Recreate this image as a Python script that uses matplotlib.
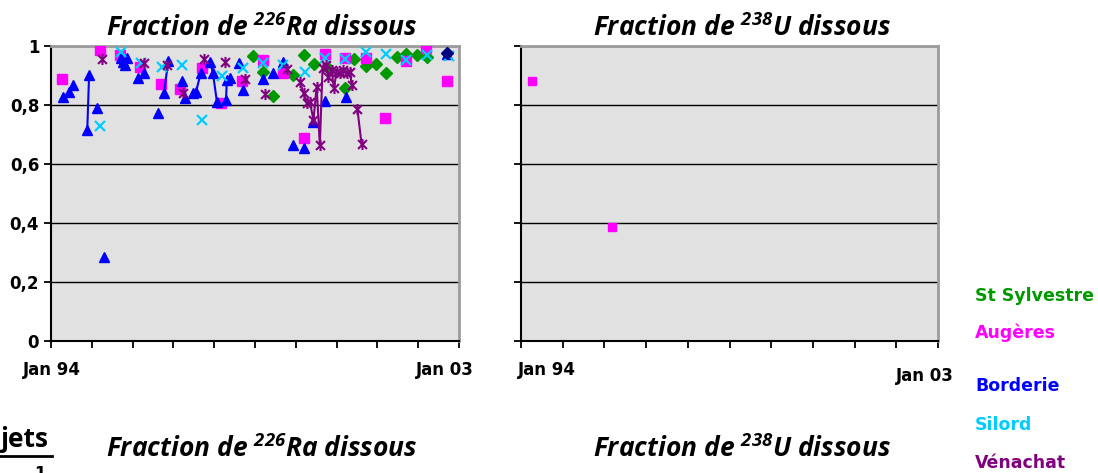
import numpy as np
import matplotlib
matplotlib.use("Agg")
import matplotlib.pyplot as plt
from matplotlib.path import Path

# ---------------------------------------------------------------
# Dissolved fractions (dates as decimal years)
# ---------------------------------------------------------------
sylvestre_dates = [1998.46, 1998.68, 1998.90, 1999.34, 1999.58, 1999.81, 2000.12,
                   2000.49, 2000.69, 2000.95, 2001.16, 2001.38, 2001.63, 2001.83,
                   2002.07, 2002.29]
sylvestre_ra = [0.965, 0.913, 0.831, 0.902, 0.969, 0.938, 0.927,
                0.856, 0.957, 0.932, 0.938, 0.910, 0.964, 0.973,
                0.969, 0.964]

augeres_dates = [1994.25, 1995.07, 1995.52, 1995.96, 1996.43, 1996.85, 1997.32,
                 1997.75, 1998.21, 1998.68, 1999.12, 1999.58, 2000.04, 2000.49,
                 2000.94, 2001.37, 2001.83, 2002.27, 2002.73]
augeres_ra = [0.887, 0.986, 0.969, 0.930, 0.870, 0.853, 0.926,
              0.808, 0.881, 0.953, 0.907, 0.687, 0.973, 0.958,
              0.958, 0.755, 0.950, 0.992, 0.881]

# NaN entries are gaps between consecutive measurement runs
borderie_dates = [1994.27, 1994.40, 1994.48, 1994.60, 1994.80, 1994.84, 1994.90,
                  1995.01, 1995.10, 1995.17, 1995.40, 1995.54, 1995.59, 1995.63, 1995.68,
                  1995.80, 1995.93, 1996.00, 1996.05, 1996.20, 1996.37, 1996.43,
                  1996.49, 1996.59, 1996.70, 1996.88, 1996.92, 1996.96, 1997.05,
                  1997.13, 1997.16, 1997.20, 1997.30, 1997.40, 1997.51, 1997.57,
                  1997.66, 1997.75, 1997.86, 1997.88, 1997.95, 1998.05, 1998.15,
                  1998.20, 1998.24, 1998.50, 1998.68, 1998.80, 1998.90, 1999.00,
                  1999.12, 1999.25, 1999.34, 1999.45, 1999.59, 1999.70, 1999.79,
                  1999.90, 2000.04, 2000.30, 2000.50, 2002.60, 2002.73]
borderie_ra = [0.826, 0.843, 0.868, np.nan, 0.715, 0.902, np.nan,
               0.789, np.nan, 0.284, np.nan, 0.958, 0.945, 0.935, 0.958,
               np.nan, 0.890, np.nan, 0.907, np.nan, 0.774, np.nan,
               0.842, 0.950, np.nan, 0.881, np.nan, 0.823, np.nan,
               0.840, np.nan, 0.845, 0.907, np.nan, 0.947, 0.910,
               0.811, np.nan, 0.817, 0.885, 0.890, np.nan, 0.944,
               np.nan, 0.851, np.nan, 0.887, np.nan, 0.907, np.nan,
               0.947, np.nan, 0.664, np.nan, 0.653, np.nan, 0.743,
               np.nan, 0.813, np.nan, 0.828, np.nan, 0.972]

silord_dates = [1995.08, 1995.54, 1995.98, 1996.44, 1996.88, 1997.32, 1997.78,
                1998.24, 1998.68, 1999.12, 1999.60, 2000.04, 2000.49, 2000.95,
                2001.38, 2001.83, 2002.29, 2002.78]
silord_ra = [0.730, 0.979, 0.944, 0.930, 0.936, 0.749, 0.900,
             0.926, 0.941, 0.936, 0.913, 0.958, 0.956, 0.979,
             0.973, 0.953, 0.969, 0.967]

venachat_dates = [1995.13, 1995.50, 1996.06, 1996.30, 1996.55, 1996.70, 1996.92,
                  1997.10, 1997.38, 1997.60, 1997.84, 1998.00, 1998.28, 1998.50,
                  1998.72, 1998.95, 1999.20, 1999.40,
                  1999.49, 1999.57, 1999.64, 1999.71, 1999.79, 1999.86, 1999.93,
                  1999.99, 2000.07, 2000.12, 2000.19, 2000.24, 2000.30, 2000.38,
                  2000.45, 2000.52, 2000.60, 2000.63, 2000.70, 2000.76, 2000.85]
venachat_ra = [0.956, np.nan, 0.941, np.nan, 0.936, np.nan, 0.842,
               np.nan, 0.956, np.nan, 0.945, np.nan, 0.887, np.nan,
               0.837, np.nan, 0.921, np.nan,
               0.879, 0.840, 0.806, 0.811, 0.749, 0.862, 0.664,
               0.924, 0.936, 0.896, 0.919, 0.856, 0.913, 0.907,
               0.919, 0.907, 0.913, 0.868, np.nan, 0.785, 0.668]

other_dates = [2002.73]
other_ra = [0.975]

augeres_u_dates = [1994.24, 1995.97]
augeres_u = [0.881, 0.386]

y_ticks = [0, 0.2, 0.4, 0.6, 0.8, 1.0]
y_tick_labels = ["0", "0,2", "0,4", "0,6", "0,8", "1"]
x_ticks = np.linspace(1994, 2003, 11)
legend_names = ["St Sylvestre", "Augères", "Borderie", "Silord", "Vénachat"]

# ---------------------------------------------------------------
C_SYL, C_AUG, C_BOR, C_SIL, C_VEN = "#009900", "#FF00FF", "#0000FF", "#00CCFF", "#800080"

plt.rcParams["mathtext.fontset"] = "custom"
plt.rcParams["mathtext.rm"] = "Open Sans:bold:italic"
plt.rcParams["mathtext.it"] = "Open Sans:bold:italic"
plt.rcParams["mathtext.bf"] = "Open Sans:bold:italic"

W, H, DPI = 1098, 473, 100
fig = plt.figure(figsize=(W / DPI, H / DPI), dpi=DPI)
fig.patch.set_facecolor("white")


def fx(x):
    return x / W


def fy(y):
    return 1 - y / H


# asterisk marker: an X crossed by a vertical bar
star = Path([(-1, -1), (1, 1), (-1, 1), (1, -1), (0, -1.25), (0, 1.25)],
            [Path.MOVETO, Path.LINETO, Path.MOVETO, Path.LINETO, Path.MOVETO, Path.LINETO])

ax1 = fig.add_axes([fx(51), fy(341), 408 / W, 295 / H])
ax2 = fig.add_axes([fx(521), fy(341), 417 / W, 295 / H])

for ax in (ax1, ax2):
    ax.set_facecolor("#E1E1E1")
    ax.set_xlim(1994, 2003)
    ax.set_ylim(0, 1)
    ax.set_xticks(x_ticks)
    ax.set_xticklabels([])
    ax.set_yticks(y_ticks)
    ax.yaxis.grid(True, color="black", lw=1.0)
    ax.set_axisbelow(True)
    for side in ("top", "right"):
        ax.spines[side].set_color("#9C9C9C")
        ax.spines[side].set_linewidth(2.0)
    for side in ("left", "bottom"):
        ax.spines[side].set_color("black")
        ax.spines[side].set_linewidth(1.5)
    ax.tick_params(direction="out", length=5, width=1.3, color="black")

ax1.set_yticklabels(y_tick_labels, fontsize=12, fontweight="bold", family="DejaVu Sans")
ax2.set_yticklabels([])

ax1.plot(sylvestre_dates, sylvestre_ra, ls="none", marker="D", ms=6, color=C_SYL, zorder=3)
ax1.plot(augeres_dates, augeres_ra, ls="none", marker="s", ms=6.5, color=C_AUG, zorder=3)
ax1.plot(borderie_dates, borderie_ra, ls="-", lw=1.5, marker="^", ms=7, color=C_BOR, zorder=4)
ax1.plot(silord_dates, silord_ra, ls="none", marker="x", ms=7, mew=1.6, color=C_SIL, zorder=5)
ax1.plot(venachat_dates, venachat_ra, ls="-", lw=1.5, marker=star, ms=8, mew=1.5,
         color=C_VEN, zorder=6)
ax1.plot(other_dates, other_ra, ls="none", marker="D", ms=6, color="#000080", zorder=7)

ax2.plot(augeres_u_dates, augeres_u, ls="none", marker="s", ms=6, color=C_AUG, zorder=3)

# date labels under the time axes
lab = dict(fontsize=12, fontweight="bold", family="DejaVu Sans", ha="center", va="center")
fig.text(fx(52), fy(370), "Jan 94", **lab)
fig.text(fx(445), fy(370), "Jan 03", **lab)
fig.text(fx(547), fy(370), "Jan 94", **lab)
fig.text(fx(925), fy(376), "Jan 03", **lab)

# chart titles
tit = dict(fontsize=19, family="Open Sans", fontweight="bold", style="italic",
           ha="center", va="center")
fig.text(fx(262), fy(28), r"Fraction de $^{226}$Ra dissous", **tit)
fig.text(fx(742), fy(28), r"Fraction de $^{238}$U dissous", **tit)
fig.text(fx(262), fy(449), r"Fraction de $^{226}$Ra dissous", **tit)
fig.text(fx(742), fy(449), r"Fraction de $^{238}$U dissous", **tit)

# section heading, underlined
fig.text(fx(1), fy(439), "jets", fontsize=19, family="Open Sans", fontweight="bold",
         ha="left", va="center")
fig.add_artist(plt.Line2D([0, fx(52)], [fy(456), fy(456)], color="black", lw=2))
fig.text(fx(40), fy(465), "1", fontsize=12, fontweight="bold", family="DejaVu Sans",
         ha="center", va="top")

# site legend
leg_y = [296, 333, 386, 425, 463]
leg_c = [C_SYL, C_AUG, C_BOR, C_SIL, C_VEN]
for name, yy, cc in zip(legend_names, leg_y, leg_c):
    fig.text(fx(975), fy(yy), name, color=cc, fontsize=12.5, fontweight="bold",
             family="DejaVu Sans", ha="left", va="center")

fig.savefig("out.png", dpi=DPI)
